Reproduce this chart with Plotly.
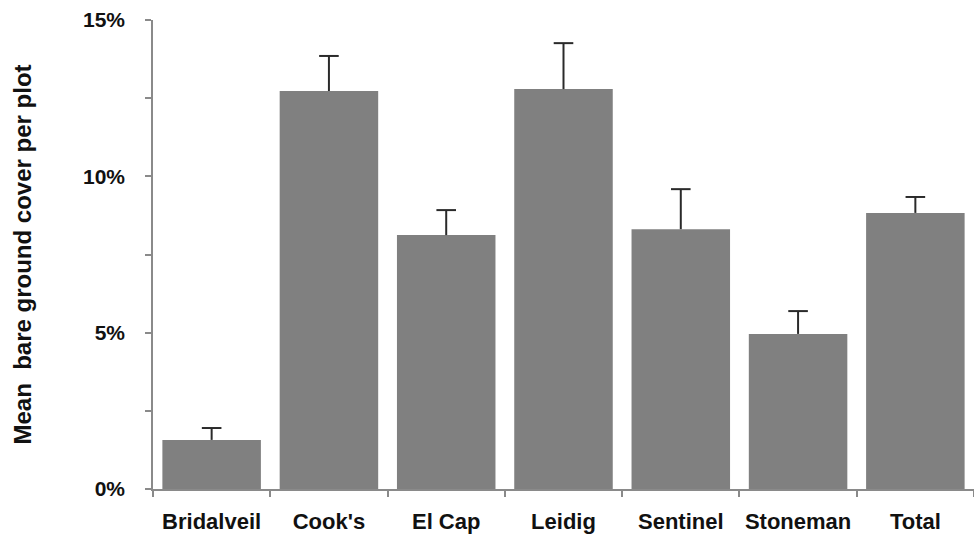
import plotly.graph_objects as go

# Mean bare ground cover per plot, by site
sites = ["Bridalveil", "Cook's", "El Cap", "Leidig", "Sentinel", "Stoneman", "Total"]
mean_cover = [0.0157, 0.1273, 0.0812, 0.1279, 0.0831, 0.0496, 0.0883]
std_error = [0.0038, 0.0112, 0.0080, 0.0147, 0.0128, 0.0073, 0.0051]

font_family = "Liberation Sans, Arial, sans-serif"
axis_grey = "#8a8a8a"
err_color = "#2a2a2a"

upper = [m + e for m, e in zip(mean_cover, std_error)]

# vertical stems of the one-sided (upper) error bars
stem_x, stem_y = [], []
for s, m, u in zip(sites, mean_cover, upper):
    stem_x += [s, s, None]
    stem_y += [m, u, None]

fig = go.Figure()
fig.add_trace(
    go.Bar(
        x=sites,
        y=mean_cover,
        marker=dict(color="#808080", line=dict(width=0)),
    )
)
fig.add_trace(
    go.Scatter(
        x=stem_x,
        y=stem_y,
        mode="lines",
        line=dict(color=err_color, width=2),
        hoverinfo="skip",
    )
)
fig.add_trace(
    go.Scatter(
        x=sites,
        y=upper,
        mode="markers",
        marker=dict(
            symbol="line-ew-open",
            size=14,
            color=err_color,
            line=dict(color=err_color, width=2),
        ),
        hoverinfo="skip",
    )
)

fig.update_layout(
    width=974,
    height=542,
    margin=dict(l=153, r=0, t=20, b=53),
    paper_bgcolor="white",
    plot_bgcolor="white",
    bargap=0.16,
    showlegend=False,
    font=dict(family=font_family, color="#111111"),
)

fig.update_xaxes(
    showline=True,
    linecolor=axis_grey,
    linewidth=1.5,
    ticks="outside",
    tickson="boundaries",
    ticklen=6,
    tickcolor=axis_grey,
    tickwidth=1.5,
    showgrid=False,
    tickfont=dict(size=22, family=font_family, weight="bold"),
    ticklabelstandoff=12,
)

fig.update_yaxes(
    range=[0, 0.15],
    dtick=0.05,
    tickformat=".0%",
    showline=True,
    linecolor=axis_grey,
    linewidth=1.5,
    ticks="outside",
    ticklen=6,
    tickcolor=axis_grey,
    tickwidth=1.5,
    showgrid=False,
    zeroline=False,
    minor=dict(dtick=0.025, ticks="outside", ticklen=6, tickcolor=axis_grey, tickwidth=1.5),
    tickfont=dict(size=21, family=font_family, weight="bold"),
    ticklabelstandoff=16,
    title=dict(
        text="Mean  bare ground cover per plot",
        font=dict(size=24, family=font_family, weight="bold"),
        standoff=45,
    ),
)

fig.write_html("out.html")
